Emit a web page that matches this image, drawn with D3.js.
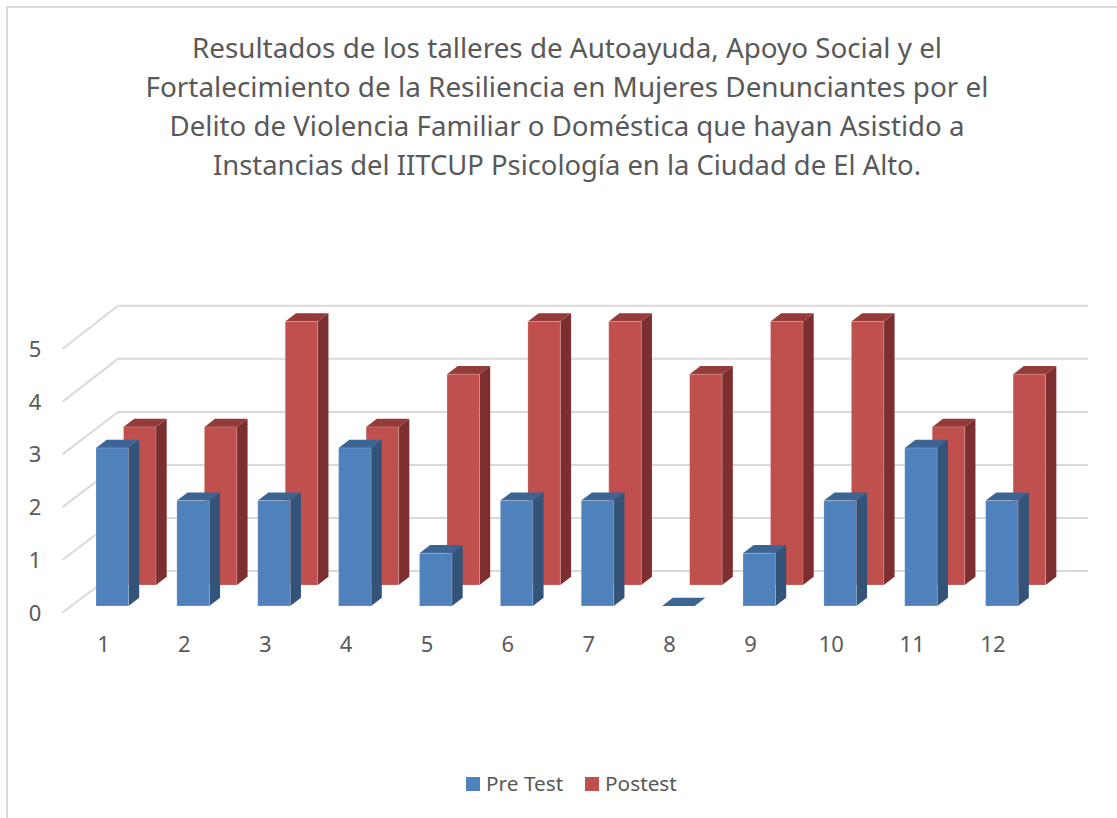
<!DOCTYPE html>
<html>
<head>
<meta charset="utf-8">
<script src="https://cdn.jsdelivr.net/npm/d3@7"></script>
<style>
  html, body { margin: 0; padding: 0; background: #fff; }
  svg { display: block; font-family: "Noto Sans", sans-serif; }
</style>
</head>
<body>
<div id="chart"></div>
<script>
var titleLines = [
  "Resultados de los talleres de Autoayuda, Apoyo Social y el",
  "Fortalecimiento de la Resiliencia en Mujeres Denunciantes por el",
  "Delito de Violencia Familiar o Doméstica que hayan Asistido a",
  "Instancias del IITCUP Psicología en la Ciudad de El Alto."
];
var categories = ["1", "2", "3", "4", "5", "6", "7", "8", "9", "10", "11", "12"];
var preTest = [3, 2, 2, 3, 1, 2, 2, 0, 1, 2, 3, 2];
var posTest = [3, 3, 5, 3, 4, 5, 5, 4, 5, 5, 3, 4];
var yTicks = [0, 1, 2, 3, 4, 5];

var svgWidth = 1117;
var svgHeight = 818;

var svg = d3.select("#chart")
  .append("svg")
  .attr("width", svgWidth)
  .attr("height", svgHeight);

// frame of the chart area, cut off on the right and bottom
svg.append("path")
  .attr("d", "M7,818V7H1117")
  .attr("fill", "none")
  .attr("stroke", "#d9d9d9")
  .attr("stroke-width", 2);

// title, each line squeezed to the width it has in the original
var titleWidths = [750, 843, 795, 708];
svg.append("g").selectAll("text")
  .data(titleLines)
  .enter()
  .append("text")
  .attr("x", 567)
  .attr("y", (d, i) => 58 + i * 39)
  .attr("text-anchor", "middle")
  .attr("font-size", "27.7px")
  .attr("textLength", (d, i) => titleWidths[i])
  .attr("lengthAdjust", "spacingAndGlyphs")
  .attr("fill", "#595959")
  .text(d => d);

// scales, these are for the front plane of the 3d box
var xScale = d3.scaleBand()
  .domain(categories)
  .range([62.5, 1033])
  .paddingInner(0)
  .paddingOuter(0);
var yScale = d3.scaleLinear()
  .domain([0, 5])
  .range([612.5, 349]);
// back wall is a little taller than the front plane
var yBack = d3.scaleLinear()
  .domain([0, 5])
  .range([571, 305.8]);

var barWidth = 32.5;
var frontInset = 33.5;    // blue bar left edge inside its band
var backShift = 27.5;     // red bar sits behind and to the right
var backRise = 21;
var sideX = 10.7;
var sideY = 8.2;
var blueLift = 6.5;
var wallX = 55.5;

// gridlines, side wall and back wall
var grid = svg.append("g")
  .attr("fill", "none")
  .attr("stroke", "#d9d9d9")
  .attr("stroke-width", 2);
yTicks.forEach(function(t) {
  grid.append("path")
    .attr("d", `M62.5,${yScale(t)}L${62.5 + wallX},${yBack(t)}H1088`);
});

function drawBar(g, x, y0, y1, colors) {
  // top
  g.append("path")
    .attr("d", `M${x},${y1}l${sideX},${-sideY}h${barWidth}l${-sideX},${sideY}z`)
    .attr("fill", colors.top);
  // side
  g.append("path")
    .attr("d", `M${x + barWidth},${y1}l${sideX},${-sideY}V${y0 - sideY}l${-sideX},${sideY}z`)
    .attr("fill", colors.side);
  // front
  g.append("rect")
    .attr("x", x)
    .attr("y", y1)
    .attr("width", barWidth)
    .attr("height", y0 - y1)
    .attr("fill", colors.front)
    .attr("stroke", "#fff")
    .attr("stroke-opacity", 0.2);
}

var blueColors = { front: "#4f81bd", top: "#3c6494", side: "#335379" };
var redColors = { front: "#c0504d", top: "#953c3a", side: "#7c2f2e" };

var posGroup = svg.append("g").attr("class", "postest");
var preGroup = svg.append("g").attr("class", "pretest");

categories.forEach(function(c, i) {
  var x = xScale(c) + frontInset;
  drawBar(posGroup, x + backShift, yScale(0) - backRise - blueLift, yScale(posTest[i]) - backRise - blueLift, redColors);
});
categories.forEach(function(c, i) {
  var x = xScale(c) + frontInset;
  drawBar(preGroup, x, yScale(0) - blueLift, yScale(preTest[i]) - blueLift, blueColors);
});

// y tick labels
svg.append("g").selectAll("text")
  .data(yTicks)
  .enter()
  .append("text")
  .attr("x", 35)
  .attr("y", d => yScale(d) + 8)
  .attr("text-anchor", "middle")
  .attr("font-size", "22px")
  .attr("fill", "#595959")
  .text(d => d);

// x tick labels
svg.append("g").selectAll("text")
  .data(categories)
  .enter()
  .append("text")
  .attr("x", d => xScale(d) + xScale.bandwidth() / 2 + 0.5)
  .attr("y", 652)
  .attr("text-anchor", "middle")
  .attr("font-size", "22px")
  .attr("fill", "#595959")
  .text(d => d);

// legend
var legendItems = [
  { name: "Pre Test", color: blueColors.front, x: 466 },
  { name: "Postest", color: redColors.front, x: 585 }
];
legendItems.forEach(function(d) {
  svg.append("rect")
    .attr("x", d.x)
    .attr("y", 777)
    .attr("width", 14)
    .attr("height", 14)
    .attr("fill", d.color);
  svg.append("text")
    .attr("x", d.x + 20)
    .attr("y", 791)
    .attr("font-size", "20.8px")
    .attr("fill", "#595959")
    .text(d.name);
});
</script>
</body>
</html>
